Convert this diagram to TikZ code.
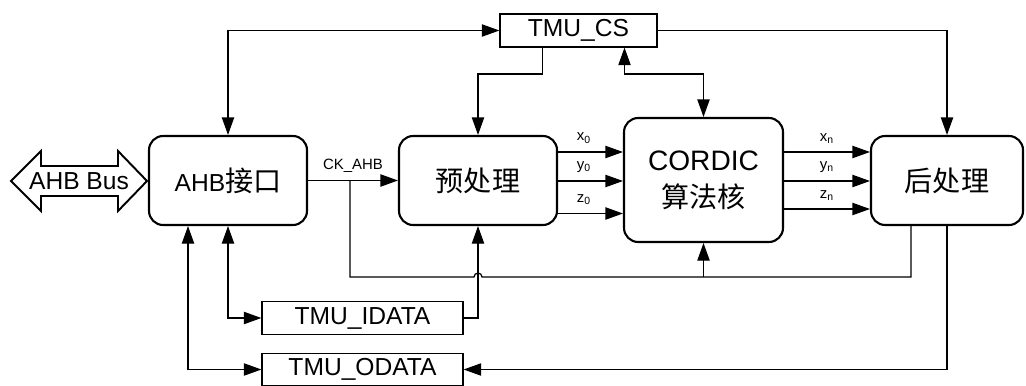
\documentclass[tikz,border=0pt]{standalone}
\usepackage{fontspec}
\setmainfont{Liberation Sans}
\newfontfamily\cjk{Noto Sans CJK SC}
\usetikzlibrary{arrows.meta, calc}
\newcommand{\zh}[1]{{\cjk\fontsize{16}{19}\selectfont #1}}

\tikzset{
  block/.style={draw, line width=1.2pt, rounded corners=8pt, inner sep=0pt,
    align=center, font=\fontsize{14}{17}\selectfont},
  reg/.style={draw, line width=0.7pt, inner sep=0pt, minimum width=4.02cm,
    minimum height=0.65cm, font=\fontsize{14}{16}\selectfont},
  wire/.style={line width=0.7pt},
  sig/.style={wire, -{Triangle[length=10pt,width=7pt]}},
  dsig/.style={wire, {Triangle[length=10pt,width=7pt]}-{Triangle[length=10pt,width=7pt]}},
  lbl/.style={font=\fontsize{8.5}{10}\selectfont, inner sep=1.5pt}
}

\begin{document}
\begin{tikzpicture}[x=0.02cm, y=-0.02cm]
    \useasboundingbox (0,0) rectangle (1026,385);

    % AHB bus arrow
    \draw[line width=1.1pt, line join=miter]
        (11,181) -- (41,151) -- (41,166) -- (118,166) -- (118,151) -- (147,181)
        -- (118,211) -- (118,196) -- (41,196) -- (41,211) -- cycle;
    \node[font=\fontsize{14}{16}\selectfont] (bus) at (79,181) {AHB Bus};

    % main blocks
    \node[block, minimum width=3.16cm, minimum height=1.78cm] (ahb) at (228,180.5) {AHB\zh{接口}};
    \node[block, minimum width=3.16cm, minimum height=1.78cm] (pre) at (478,180.5) {\zh{预处理}};
    \node[block, minimum width=3.18cm, minimum height=2.48cm, font=\fontsize{16}{21}\selectfont]
        (cordic) at (703.5,180) {CORDIC\\\zh{算法核}};
    \node[block, minimum width=3.04cm, minimum height=1.78cm] (post) at (947,180.5) {\zh{后处理}};

    % registers
    \node[reg, minimum width=3.14cm, minimum height=0.66cm] (cs) at (578.5,30.5) {TMU\_CS};
    \node[reg] (idata) at (362.5,318) {TMU\_IDATA};
    \node[reg] (odata) at (362.5,369.5) {TMU\_ODATA};

    \coordinate (csbus) at (0,74);
    \coordinate (ckbus) at (0,277);
    \coordinate (ck) at ($(ahb.east)+(42,0)$);

    % control register
    \draw[dsig] (ahb.north) |- (cs.west);
    \draw[sig] ($(cs.south)+(-36,0)$) |- (pre.north |- csbus) -- (pre.north);
    \draw[dsig] ($(cs.south)+(46,0)$) |- (cordic.north |- csbus) -- (cordic.north);
    \draw[sig] (cs.east) -| (post.north);

    % clock
    \draw[sig] (ahb.east) -- node[lbl, above=2.5pt] {CK\_AHB} (pre.west);
    \draw[wire] (ck) |- ($(pre.south |- ckbus)+(-4,0)$)
        arc[start angle=180, end angle=0, radius=0.08cm]
        -| ($(post.south)+(-36,0)$);
    \draw[sig] (cordic.south |- ckbus) -- (cordic.south);

    % data path
    \draw[sig] ($(pre.east)+(0,-28.5)$) coordinate (x0) -- node[lbl, above=3pt, pos=0.4] {x\textsubscript{0}} (x0 -| cordic.west);
    \draw[sig] ($(pre.east)+(0,0.5)$) coordinate (y0) -- node[lbl, above=3pt, pos=0.4] {y\textsubscript{0}} (y0 -| cordic.west);
    \draw[sig] ($(pre.east)+(0,33)$) coordinate (z0) -- node[lbl, above=3pt, pos=0.4] {z\textsubscript{0}} (z0 -| cordic.west);
    \draw[sig] ($(cordic.east)+(0,-28)$) coordinate (xn) -- node[lbl, above=3pt] {x\textsubscript{n}} (xn -| post.west);
    \draw[sig] ($(cordic.east)+(0,1)$) coordinate (yn) -- node[lbl, above=3pt] {y\textsubscript{n}} (yn -| post.west);
    \draw[sig] ($(cordic.east)+(0,29)$) coordinate (zn) -- node[lbl, above=3pt] {z\textsubscript{n}} (zn -| post.west);

    % data registers
    \draw[dsig] (ahb.south) |- (idata.west);
    \draw[sig] (idata.east) -| (pre.south);
    \draw[dsig] ($(ahb.south)+(-40,0)$) |- (odata.west);
    \draw[sig] (post.south) |- (odata.east);

\end{tikzpicture}
\end{document}
